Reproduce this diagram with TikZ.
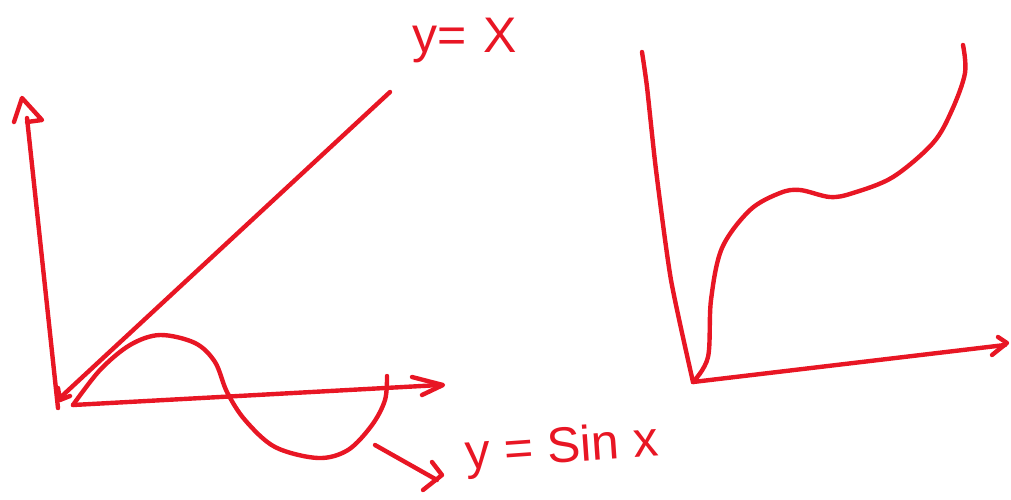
\documentclass[tikz,border=0pt]{standalone}
\usepackage{fontspec}
\setmainfont{Liberation Sans}
\begin{document}
\begin{tikzpicture}[x=1pt,y=-1pt,
  pen/.style={draw=penred,line width=4.4pt,line cap=round,line join=round},
  hand/.style={text=penred,font=\fontsize{50}{50}\selectfont,inner sep=0pt}]
\definecolor{penred}{RGB}{232,22,36}
\useasboundingbox (0,0) rectangle (1011,499);
% ---- left graph ----
% vertical axis with open arrowhead
\draw[pen] (58,408) -- (27,118);
\draw[pen] (14,122) -- (22,98) -- (42,120) -- (27,122);
% y = x line with small arrowhead at origin
\draw[pen] (390,92) -- (62,396);
\draw[pen] (58,388) -- (60,400) -- (70,396);
% horizontal axis
\draw[pen] (73,405) -- (440,385);
\draw[pen] (412,377) -- (443,385) -- (422,395);
% sine curve
\draw[pen] plot[smooth,tension=0.55] coordinates {
  (73,405) (100,370) (130,345) (160,335) (195,343) (215,362) (227,392)
  (245,420) (275,447) (318,458) (348,450) (372,425) (385,400) (387,376)};
% pointer arrow to label
\draw[pen] (375,445) -- (437,480);
\draw[pen] (432,462) -- (442,475) -- (423,490);
% labels
\node[hand,rotate=4] (lsin) at (562,450) {y = Sin x};
\node[hand] (lyx) at (465,40) {y=\,\,X};
% ---- right graph ----
\draw[pen] plot[smooth,tension=0.4] coordinates {
  (642,52) (647,87) (656,170) (671,280) (693,382)};
\draw[pen] (693,382) -- (1005,345);
\draw[pen] (998,337) -- (1007,343) -- (992,355);
\draw[pen] plot[smooth,tension=0.55] coordinates {
  (693,382) (708,357) (711,300) (722,248) (750,210) (780,193) (800,190)
  (830,197) (853,193) (893,177) (933,143) (952,110) (965,73) (963,45)};
\end{tikzpicture}
\end{document}
